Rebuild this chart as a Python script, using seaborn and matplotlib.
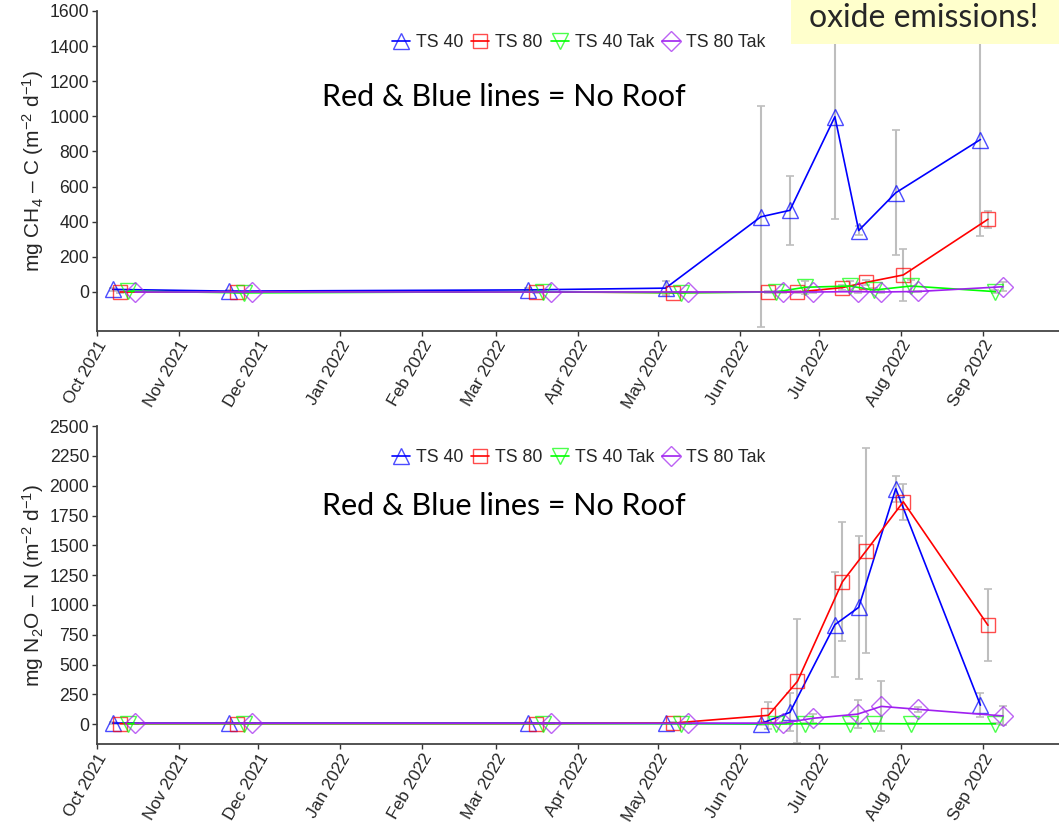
import pandas as pd
import numpy as np
import seaborn as sns
import matplotlib.pyplot as plt
import matplotlib.dates as mdates
from matplotlib.colors import to_rgba
from matplotlib.patches import Rectangle

# sampling dates (TS 40); other treatments were sampled a few days later
sample_dates = ["2021-10-07", "2021-11-20", "2022-03-13", "2022-05-04", "2022-06-09",
                "2022-06-20", "2022-07-07", "2022-07-16", "2022-07-30", "2022-08-31"]
series_names = ["TS 40", "TS 80", "TS 40 Tak", "TS 80 Tak"]
series_lag_days = [0, 2.85, 5.7, 8.55]

# CH4 flux, mg CH4-C m-2 d-1 (mean and error)
ch4_ts40 = [15, 5, 12, 22, 428, 465, 998, 350, 565, 868]
ch4_ts40_err = [10, 5, 8, 40, 630, 195, 585, 25, 355, 550]
ch4_ts80 = [0, 0, 0, -3, 0, 0, 25, 55, 97, 414]
ch4_ts80_err = [3, 3, 3, 5, 5, 5, 12, 15, 148, 50]
ch4_ts40tak = [5, -5, 2, -5, 0, 27, 34, 11, 34, 2]
ch4_ts40tak_err = [3, 3, 3, 3, 5, 37, 30, 10, 35, 10]
ch4_ts80tak = [0, 0, 0, 0, 0, 0, 2, 0, 3, 30]
ch4_ts80tak_err = [2, 2, 2, 2, 3, 3, 5, 5, 5, 25]

# N2O flux, mg N2O-N m-2 d-1 (mean and error)
n2o_ts40 = [10, 10, 10, 8, 5, 100, 835, 980, 1975, 160]
n2o_ts40_err = [5, 5, 5, 5, 10, 160, 440, 600, 110, 100]
n2o_ts80 = [5, 5, 5, 10, 75, 360, 1195, 1455, 1865, 830]
n2o_ts80_err = [5, 5, 5, 5, 115, 520, 500, 860, 150, 300]
n2o_ts40tak = [5, 5, 5, 5, 3, 4, 4, 5, 4, 4]
n2o_ts40tak_err = [3, 3, 3, 3, 3, 3, 3, 3, 3, 3]
n2o_ts80tak = [8, 8, 8, 8, 10, 50, 85, 150, 125, 70]
n2o_ts80tak_err = [5, 5, 5, 5, 10, 40, 115, 210, 20, 80]

colors = {"TS 40": "#0000FF", "TS 80": "#FF0000", "TS 40 Tak": "#00FF00", "TS 80 Tak": "#A020F0"}
markers = {"TS 40": "^", "TS 80": "s", "TS 40 Tak": "v", "TS 80 Tak": "D"}
marker_sizes = {"TS 40": 12, "TS 80": 10, "TS 40 Tak": 12, "TS 80 Tak": 10}


def long_table(means, errs):
    rows = []
    for name, lag, m, e in zip(series_names, series_lag_days, means, errs):
        d = pd.to_datetime(sample_dates) + pd.to_timedelta(lag, unit="D")
        rows.append(pd.DataFrame({"date": d, "flux": m, "err": e, "treatment": name}))
    return pd.concat(rows, ignore_index=True)


ch4_df = long_table([ch4_ts40, ch4_ts80, ch4_ts40tak, ch4_ts80tak],
                    [ch4_ts40_err, ch4_ts80_err, ch4_ts40tak_err, ch4_ts80tak_err])
n2o_df = long_table([n2o_ts40, n2o_ts80, n2o_ts40tak, n2o_ts80tak],
                    [n2o_ts40_err, n2o_ts80_err, n2o_ts40tak_err, n2o_ts80tak_err])

sns.set_style("ticks")
plt.rcParams["font.family"] = ["Liberation Sans", "DejaVu Sans"]
plt.rcParams["mathtext.fontset"] = "custom"
plt.rcParams["mathtext.rm"] = "Liberation Sans"
plt.rcParams["mathtext.it"] = "Liberation Sans:italic"

fig = plt.figure(figsize=(10.59, 8.25), dpi=100)
ax1 = fig.add_axes([0.0913, 0.5988, 0.9087, 0.3879])
ax2 = fig.add_axes([0.0913, 0.0978, 0.9087, 0.3858])

x_start = pd.Timestamp("2021-10-01")
x_end = x_start + pd.Timedelta(days=363.7)


def draw_panel(ax, df, ylim, yticks, ylabel):
    sns.lineplot(data=df, x="date", y="flux", hue="treatment", style="treatment",
                 hue_order=series_names, style_order=series_names,
                 palette=colors, markers=markers, dashes=False, linewidth=1.2,
                 legend=False, ax=ax, zorder=3)
    handles = []
    for line, name in zip(ax.lines, series_names):
        line.set_markerfacecolor("none")
        line.set_markeredgecolor(to_rgba(colors[name], 0.7))
        line.set_markeredgewidth(1.0)
        line.set_markersize(marker_sizes[name])
        handles.append(line)
    ax.errorbar(df["date"], df["flux"], yerr=df["err"], fmt="none", ecolor="#BEBEBE",
                elinewidth=1.5, capsize=3, capthick=1.2, zorder=2)
    ax.set_xlim(x_start, x_end)
    ax.set_ylim(*ylim)
    ax.set_yticks(yticks)
    ax.xaxis.set_major_locator(mdates.MonthLocator())
    ax.xaxis.set_major_formatter(mdates.DateFormatter("%b %Y"))
    for lab in ax.get_xticklabels():
        lab.set_rotation(60)
        lab.set_ha("right")
        lab.set_va("top")
        lab.set_rotation_mode("anchor")
    ax.tick_params(labelsize=12.7, length=3.5, width=1, color="#333333", pad=2)
    ax.tick_params(axis="x", labelsize=12.4, pad=1.5)
    for side in ["top", "right"]:
        ax.spines[side].set_visible(False)
    for side in ["left", "bottom"]:
        ax.spines[side].set_color("#444444")
        ax.spines[side].set_linewidth(1.3)
    ax.spines["left"].set_bounds(ylim[0], yticks[-1])
    ax.set_xlabel("")
    ax.set_ylabel(ylabel, fontsize=15)
    ax.yaxis.set_label_coords(-0.053, 0.5)
    ax.legend(handles=handles, labels=series_names, ncol=4, frameon=False,
              loc="center", bbox_to_anchor=(0.501, 0.9), fontsize=12.8,
              handlelength=1.0, handletextpad=0.35, columnspacing=0.45)
    ax.text(0.235, 0.0, "Red & Blue lines = No Roof", transform=ax.transAxes,
            family="Lato", fontsize=22, color="black")


draw_panel(ax1, ch4_df, (-222, 1600), np.arange(0, 1601, 200),
           "mg CH$_4$ – C (m$^{-2}$ d$^{-1}$)")
draw_panel(ax2, n2o_df, (-168, 2500), np.arange(0, 2501, 250),
           "mg N$_2$O – N (m$^{-2}$ d$^{-1}$)")

# place the annotation texts in figure pixels
for t, base in zip([ax1.texts[0], ax2.texts[0]], [106, 515]):
    t.set_transform(fig.transFigure)
    t.set_position((322 / 1059, 1 - base / 825))

# slide call-out box cut off at the top-right corner
fig.patches.append(Rectangle((791 / 1059, 1 - 44.3 / 825), 1 - 791 / 1059, 44.3 / 825,
                             transform=fig.transFigure, facecolor="#FFFFCC",
                             edgecolor="none", zorder=10))
fig.text(924 / 1059, 1 - 27 / 825, "oxide emissions!", family="Lato", fontsize=23,
         ha="center", va="baseline", zorder=11)

fig.savefig("out.png", dpi=100)
